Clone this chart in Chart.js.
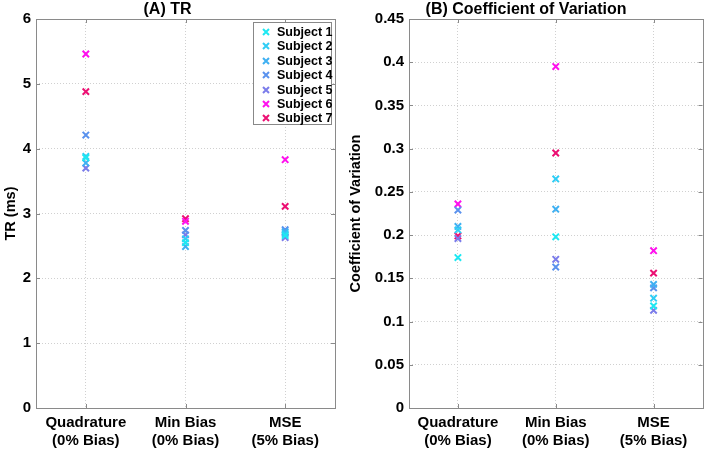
<!DOCTYPE html>
<html>
<head>
<meta charset="utf-8">
<script src="https://cdn.jsdelivr.net/npm/chart.js@4/dist/chart.umd.min.js"></script>
<style>
  html, body { margin: 0; padding: 0; background: #fff; }
  body { width: 709px; height: 452px; position: relative; overflow: hidden; font-family: "Liberation Sans", Arial, sans-serif; }
  .panel { position: absolute; top: 0; height: 452px; }
  #legend { position: absolute; left: 253px; top: 22px; width: 79px; height: 103px; border: 1px solid #888; background: #fff; box-sizing: border-box; font: bold 12.5px "Liberation Sans", Arial, sans-serif; }
  .lrow { position: absolute; left: 0; height: 14px; line-height: 14px; white-space: nowrap; }
  .lmark { position: absolute; left: 8px; top: 3px; width: 8px; height: 8px; }
  .ltext { position: absolute; left: 23px; top: 0; color: #000; }
</style>
</head>
<body>
<div class="panel" style="left:0;width:345px;"><canvas id="cA" width="345" height="452"></canvas></div>
<div class="panel" style="left:345px;width:364px;"><canvas id="cB" width="364" height="452"></canvas></div>
<div id="legend"></div>
<script>
// ---- data ----
const categories = [['Quadrature', '(0% Bias)'], ['Min Bias', '(0% Bias)'], ['MSE', '(5% Bias)']];
const subjects = ['Subject 1', 'Subject 2', 'Subject 3', 'Subject 4', 'Subject 5', 'Subject 6', 'Subject 7'];
const subjectColors = ['#1ee8f2', '#2fcdf5', '#3fb0f2', '#5a92ee', '#7b7cea', '#ff10ee', '#ec1073'];

const trS1 = [3.86, 2.55, 2.66];
const trS2 = [3.88, 2.61, 2.69];
const trS3 = [3.78, 2.49, 2.72];
const trS4 = [4.21, 2.74, 2.75];
const trS5 = [3.70, 2.67, 2.63];
const trS6 = [5.46, 2.88, 3.83];
const trS7 = [4.88, 2.92, 3.11];

const cvS1 = [0.174, 0.198, 0.118];
const cvS2 = [0.206, 0.265, 0.127];
const cvS3 = [0.210, 0.230, 0.143];
const cvS4 = [0.229, 0.163, 0.139];
const cvS5 = [0.196, 0.172, 0.113];
const cvS6 = [0.236, 0.395, 0.182];
const cvS7 = [0.199, 0.295, 0.156];

const trTicks = [0, 1, 2, 3, 4, 5, 6];
const cvTicks = [0, 0.05, 0.1, 0.15, 0.2, 0.25, 0.3, 0.35, 0.4, 0.45];

const trSeries = [trS1, trS2, trS3, trS4, trS5, trS6, trS7];
const cvSeries = [cvS1, cvS2, cvS3, cvS4, cvS5, cvS6, cvS7];

const FONT = "'Liberation Sans', Arial, sans-serif";

const framePlugin = {
  id: 'frame',
  afterDraw(chart) {
    const ctx = chart.ctx, a = chart.chartArea;
    ctx.save();
    ctx.strokeStyle = '#8a8a8a';
    ctx.lineWidth = 1;
    ctx.strokeRect(Math.round(a.left) + 0.5, Math.round(a.top) + 0.5, Math.round(a.right - a.left), Math.round(a.bottom - a.top));
    const xs = chart.scales.x, ys = chart.scales.y;
    ctx.beginPath();
    xs.ticks.forEach((t, i) => {
      const px = Math.round(xs.getPixelForTick(i)) + 0.5;
      ctx.moveTo(px, a.bottom); ctx.lineTo(px, a.bottom - 4);
      ctx.moveTo(px, a.top); ctx.lineTo(px, a.top + 4);
    });
    ys.ticks.forEach((t, i) => {
      const py = Math.round(ys.getPixelForTick(i)) + 0.5;
      ctx.moveTo(a.left, py); ctx.lineTo(a.left + 4, py);
      ctx.moveTo(a.right, py); ctx.lineTo(a.right - 4, py);
    });
    ctx.stroke();
    ctx.restore();
  }
};

function makeChart(id, title, yTitle, series, ticks, yWidth, rightPad) {
  const maxV = ticks[ticks.length - 1];
  return new Chart(document.getElementById(id), {
    type: 'line',
    data: {
      labels: categories,
      datasets: series.map((s, i) => ({
        label: subjects[i],
        data: s,
        showLine: false,
        pointStyle: 'crossRot',
        pointRadius: 4.5,
        pointHoverRadius: 4.5,
        pointBorderWidth: 2,
        borderColor: subjectColors[i],
        backgroundColor: subjectColors[i]
      }))
    },
    options: {
      responsive: false,
      animation: false,
      devicePixelRatio: 1,
      layout: { padding: { top: 0, right: rightPad, bottom: 0, left: 0 } },
      plugins: {
        legend: { display: false },
        tooltip: { enabled: false },
        title: {
          display: true, text: title, color: '#000',
          font: { family: FONT, size: 16, weight: 'bold', lineHeight: 1.0 },
          padding: { top: 2, bottom: 1 }
        }
      },
      scales: {
        x: {
          type: 'category',
          offset: true,
          grid: { offset: false, color: '#d0d0d0', borderDash: [1, 2], drawTicks: false, lineWidth: 1 },
          border: { display: false, dash: [1, 2] },
          ticks: { color: '#000', font: { family: FONT, size: 15, weight: 'bold', lineHeight: 1.2 }, padding: 6, maxRotation: 0, autoSkip: false },
          afterFit(scale) { scale.height = 44; }
        },
        y: {
          min: 0, max: maxV,
          afterBuildTicks(scale) { scale.ticks = ticks.map(v => ({ value: v })); },
          grid: { color: '#d0d0d0', borderDash: [1, 2], drawTicks: false, lineWidth: 1 },
          border: { display: false, dash: [1, 2] },
          ticks: {
            color: '#000', font: { family: FONT, size: 15, weight: 'bold' }, padding: 5,
            callback: v => String(+Number(v).toFixed(2))
          },
          title: {
            display: true, text: yTitle, color: '#000',
            font: { family: FONT, size: 14.5, weight: 'bold' }, padding: { top: 2, bottom: 0 }
          },
          afterFit(scale) { scale.width = yWidth; }
        }
      }
    },
    plugins: [framePlugin]
  });
}

makeChart('cA', '(A) TR', 'TR (ms)', trSeries, trTicks, 36, 10);
makeChart('cB', '(B) Coefficient of Variation', 'Coefficient of Variation', cvSeries, cvTicks, 64, 2);

// HTML legend (inside panel A)
const legend = document.getElementById('legend');
subjects.forEach((name, i) => {
  const row = document.createElement('div');
  row.className = 'lrow';
  row.style.top = (2 + i * 14.4) + 'px';
  const mk = document.createElement('canvas');
  mk.className = 'lmark'; mk.width = 8; mk.height = 8;
  const c = mk.getContext('2d');
  c.strokeStyle = subjectColors[i]; c.lineWidth = 2;
  c.beginPath(); c.moveTo(1, 1); c.lineTo(7, 7); c.moveTo(7, 1); c.lineTo(1, 7); c.stroke();
  const tx = document.createElement('span');
  tx.className = 'ltext'; tx.textContent = name;
  row.appendChild(mk); row.appendChild(tx);
  legend.appendChild(row);
});
</script>
</body>
</html>
